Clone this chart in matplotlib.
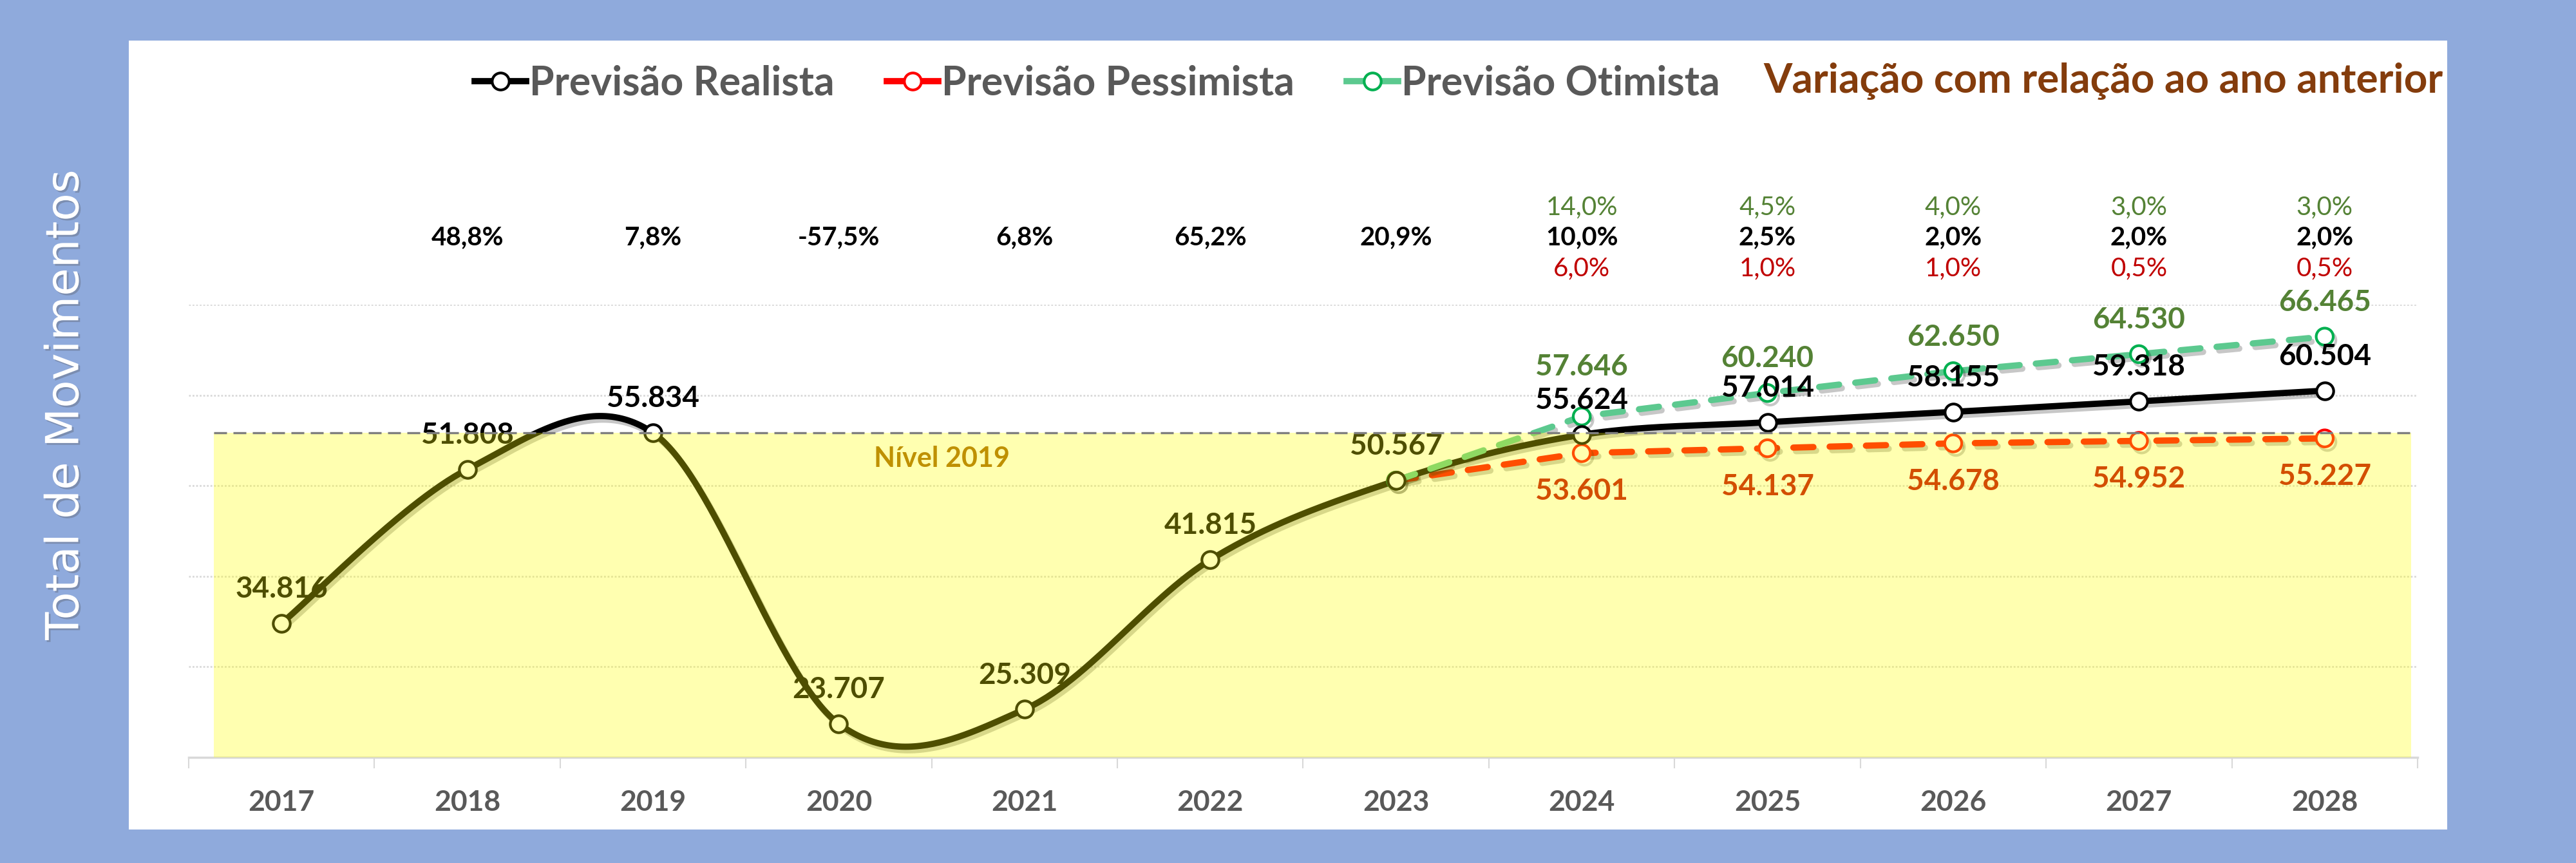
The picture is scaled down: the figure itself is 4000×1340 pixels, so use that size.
import numpy as np
import matplotlib
matplotlib.use("Agg")
import matplotlib.pyplot as plt
import matplotlib.patheffects as pe
from matplotlib.lines import Line2D
from matplotlib.patches import Rectangle
from matplotlib import transforms

# ---------------- data ----------------
years = ["2017", "2018", "2019", "2020", "2021", "2022", "2023",
         "2024", "2025", "2026", "2027", "2028"]
realista = [34816, 51808, 55834, 23707, 25309, 41815, 50567,
            55624, 57014, 58155, 59318, 60504]
pessimista = [50567, 53601, 54137, 54678, 54952, 55227]   # 2023..2028
otimista = [50567, 57646, 60240, 62650, 64530, 66465]     # 2023..2028
var_realista = [48.8, 7.8, -57.5, 6.8, 65.2, 20.9, 10.0, 2.5, 2.0, 2.0, 2.0]  # 2018..2028
var_otimista = [14.0, 4.5, 4.0, 3.0, 3.0]     # 2024..2028
var_pessimista = [6.0, 1.0, 1.0, 0.5, 0.5]    # 2024..2028
ref_year = "2019"

plt.rcParams['font.family'] = ['Lato', 'DejaVu Sans']

BLUE_BG = '#8FAADC'
GREEN_TXT = '#548235'
RED_TXT = '#C00000'
GREEN_LINE = '#5CC98F'
GREEN_EDGE = '#00B050'
RED_LINE = '#FF0000'
GREY_TXT = '#595959'


def fmt_int(v):
    return f"{v:,.0f}".replace(",", ".")


def fmt_pct(v):
    return f"{v:.1f}%".replace(".", ",")


def smooth(xs, ys, n=60):
    xs = np.asarray(xs, float)
    ys = np.asarray(ys, float)
    P = np.column_stack([xs, ys])
    out = []
    for i in range(len(P) - 1):
        p0 = P[i - 1] if i > 0 else P[i]
        p1 = P[i]
        p2 = P[i + 1]
        p3 = P[i + 2] if i + 2 < len(P) else P[i + 1]
        c1 = p1 + (p2 - p0) / 6.0
        c2 = p2 - (p3 - p1) / 6.0
        t = np.linspace(0, 1, n)[:, None]
        seg = ((1 - t) ** 3) * p1 + 3 * ((1 - t) ** 2) * t * c1 + 3 * (1 - t) * t ** 2 * c2 + t ** 3 * p2
        out.append(seg if i == 0 else seg[1:])
    arr = np.vstack(out)
    return arr[:, 0], arr[:, 1]


fig = plt.figure(figsize=(40, 13.4), dpi=100, facecolor=BLUE_BG)
fig.add_artist(Rectangle((0.05, 0.0388), 0.9, 0.9142, transform=fig.transFigure,
                         facecolor='white', edgecolor='none', zorder=-5))

ax = fig.add_axes([0.07325, 0.12239, 0.86525, 0.52463])
ax.set_facecolor('none')

x_all = np.arange(len(years))
x_fc = x_all[years.index("2023"):]

shadow = [pe.SimpleLineShadow(offset=(3, -4), shadow_color='k', alpha=0.22), pe.Normal()]

# realistic smoothed line
sx, sy = smooth(x_all, realista)
ax.plot(sx, sy, color='black', lw=7, solid_capstyle='round', zorder=4, path_effects=shadow)
ax.plot(x_all, realista, ls='none', marker='o', ms=19, mfc='white', mec='black', mew=3, zorder=5)

# pessimist & optimist
dash_kw = dict(lw=7, dashes=(3.2, 2.6), dash_capstyle='round', marker='o', ms=19,
               mfc='white', mew=3, path_effects=shadow)
ax.plot(x_fc, pessimista, color=RED_LINE, mec=RED_LINE, zorder=3, **dash_kw)
ax.plot(x_fc, otimista, color=GREEN_LINE, mec=GREEN_EDGE, zorder=4.5, **dash_kw)

# value labels
lab_kw = dict(ha='center', va='center', fontsize=33, fontweight='bold', textcoords='offset points', zorder=6)
for x, v in zip(x_all, realista):
    ax.annotate(fmt_int(v), (x, v), xytext=(0, 38), color='black', **lab_kw)
for i, (x, v) in enumerate(zip(x_fc[1:], otimista[1:])):
    ax.annotate(fmt_int(v), (x, v), xytext=(0, 55 if i == 0 else 38), color=GREEN_TXT, **lab_kw)
for x, v in zip(x_fc[1:], pessimista[1:]):
    ax.annotate(fmt_int(v), (x, v), xytext=(0, -43), color=RED_TXT, **lab_kw)

# yellow translucent overlay (2019 level)
ref_val = realista[years.index(ref_year)]
ax.axhspan(20000, ref_val, xmin=0.0113, xmax=0.997, facecolor=(1, 1, 0), alpha=0.31,
           edgecolor='none', zorder=10)
ax.axhline(ref_val, xmin=0.0113, xmax=0.997, color='#7F7F7F', lw=2.4, dashes=(6, 3), zorder=11)
ax.text(0.3378, 0.66, f"Nível {ref_year}", transform=ax.transAxes, ha='center', va='center',
        fontsize=31, fontweight='bold', color='#BF9000', zorder=12)

# axes styling
ax.set_xlim(-0.5, len(years) - 0.5)
ax.set_ylim(20000, 70000)
ax.set_yticks(np.arange(20000, 70001, 10000))
ax.set_yticklabels([])
ax.tick_params(axis='y', length=0)
ax.yaxis.grid(True, color='#D9D9D9', lw=2, ls=(0, (1, 1)), zorder=0)
ax.set_axisbelow(True)
for s in ['left', 'right', 'top']:
    ax.spines[s].set_visible(False)
ax.spines['bottom'].set_color('#D9D9D9')
ax.spines['bottom'].set_linewidth(2.5)
ax.set_xticks(x_all)
ax.set_xticklabels(years, fontsize=32, fontweight='bold', color=GREY_TXT)
ax.set_xticks(np.arange(-0.5, len(years)), minor=True)
ax.tick_params(axis='x', which='major', length=0, pad=36)
ax.tick_params(axis='x', which='minor', length=12, width=1.5, color='#D9D9D9')

# variation rows
tr = transforms.blended_transform_factory(ax.transData, fig.transFigure)
for x, v in zip(x_all[1:], var_realista):
    ax.text(x, 0.7246, fmt_pct(v), transform=tr, ha='center', va='center', fontsize=29,
            fontweight='bold', color='black')
for x, v in zip(x_all[years.index("2024"):], var_otimista):
    ax.text(x, 0.7597, fmt_pct(v), transform=tr, ha='center', va='center', fontsize=29, color=GREEN_TXT)
for x, v in zip(x_all[years.index("2024"):], var_pessimista):
    ax.text(x, 0.6888, fmt_pct(v), transform=tr, ha='center', va='center', fontsize=29, color=RED_TXT)

# legend
handles = [
    Line2D([], [], color='black', lw=7, marker='o', ms=19, mfc='white', mec='black', mew=3),
    Line2D([], [], color=RED_LINE, lw=7, marker='o', ms=19, mfc='white', mec=RED_LINE, mew=3),
    Line2D([], [], color=GREEN_LINE, lw=7, marker='o', ms=19, mfc='white', mec=GREEN_EDGE, mew=3),
]
leg = fig.legend(handles, ["Previsão Realista", "Previsão Pessimista", "Previsão Otimista"],
                 loc='center left', bbox_to_anchor=(0.1843, 0.903), ncol=3, frameon=False,
                 prop={'size': 45, 'weight': 'bold'}, handlelength=1.28, handletextpad=0.08,
                 columnspacing=1.3, borderpad=0, borderaxespad=0)
for t in leg.get_texts():
    t.set_color(GREY_TXT)

fig.text(0.6845, 0.906, "Variação com relação ao ano anterior", ha='left', va='center',
         fontsize=46, fontweight='bold', color='#843C0C')

fig.text(0.0255, 0.531, "Total de Movimentos", rotation=90, ha='center', va='center',
         fontsize=51, color='white', family='DejaVu Sans',
         path_effects=[pe.withSimplePatchShadow(offset=(2, -2), alpha=0.3)])

fig.savefig("out.png", dpi=100, facecolor=BLUE_BG)
